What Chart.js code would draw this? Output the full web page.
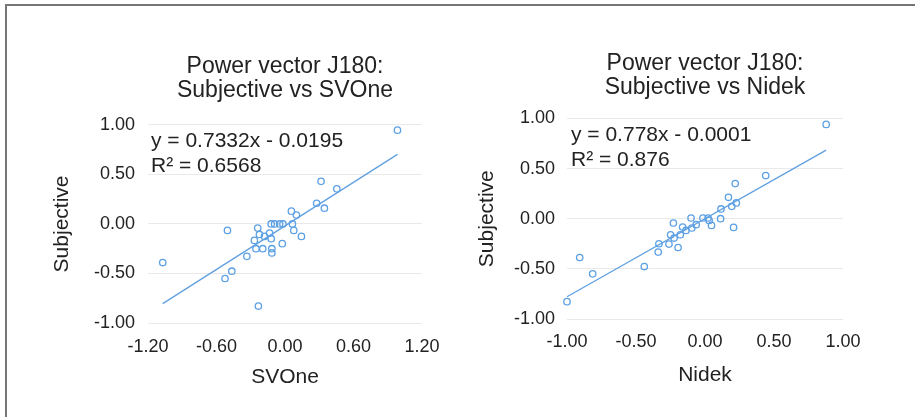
<!DOCTYPE html>
<html>
<head>
<meta charset="utf-8">
<script src="https://cdn.jsdelivr.net/npm/chart.js@4.4.1/dist/chart.umd.min.js"></script>
<style>
  html, body { margin: 0; padding: 0; background: #fff; }
  body { width: 915px; height: 417px; position: relative; overflow: hidden; }
  #frame { position: absolute; left: 5px; top: 4px; width: 930px; height: 430px;
           border-top: 2px solid #767676; border-left: 2px solid #767676; }
  canvas { position: absolute; top: 0; }
  #c1 { left: 0; }
  #c2 { left: 457px; }
</style>
</head>
<body>
<div id="frame"></div>
<canvas id="c1" width="460" height="417"></canvas>
<canvas id="c2" width="458" height="417"></canvas>
<script>
// ---- Data ----
const titleLeft = ['Power vector J180:', 'Subjective vs SVOne'];
const titleRight = ['Power vector J180:', 'Subjective vs Nidek'];
const xTitleLeft = 'SVOne';
const xTitleRight = 'Nidek';
const yTitle = 'Subjective';

const svoneX = [0.985, -1.071, 0.316, 0.454, 0.277, 0.345, 0.056, 0.100, -0.121, -0.091, -0.047, -0.018, 0.065, 0.077, 0.144, -0.504, -0.239, -0.224, -0.180, -0.135, -0.121, -0.268, -0.024, -0.254, -0.195, -0.115, -0.115, -0.334, -0.466, -0.525, -0.233];
const svoneY = [0.947, -0.390, 0.430, 0.354, 0.209, 0.159, 0.129, 0.089, 0.000, 0.000, 0.000, 0.000, 0.000, -0.065, -0.126, -0.065, -0.042, -0.106, -0.126, -0.092, -0.149, -0.166, -0.199, -0.250, -0.250, -0.250, -0.293, -0.327, -0.477, -0.551, -0.829];

const nidekX = [0.878, 0.440, 0.219, 0.170, 0.227, 0.194, 0.116, 0.113, -0.015, 0.022, 0.030, 0.047, 0.207, -0.101, -0.064, -0.096, -0.162, -0.138, -0.229, -0.249, -0.179, -0.224, -0.261, -0.195, -0.334, -0.339, -0.440, -0.908, -0.814, -1.000];
const nidekY = [0.940, 0.430, 0.350, 0.213, 0.157, 0.123, 0.097, 0.000, 0.007, 0.007, -0.017, -0.067, -0.087, 0.007, -0.060, -0.093, -0.083, -0.117, -0.043, -0.160, -0.160, -0.193, -0.253, -0.287, -0.250, -0.333, -0.477, -0.387, -0.550, -0.827];

// Trendline equations as printed on the chart
const slopeLeft = 0.7332, interceptLeft = -0.0195;
const slopeRight = 0.778, interceptRight = -0.0001;
const eqLeft = ['y = 0.7332x - 0.0195', 'R\u00B2 = 0.6568'];
const eqRight = ['y = 0.778x - 0.0001', 'R\u00B2 = 0.876'];

// Tick values
const xTicksLeft = [-1.2, -0.6, 0, 0.6, 1.2];
const xTicksRight = [-1.0, -0.5, 0, 0.5, 1.0];
const yTicks = [-1.0, -0.5, 0, 0.5, 1.0];

// ---- Styling ----
const FONT = '"Liberation Sans", Arial, Helvetica, sans-serif';
const TEXT = '#222222';
const POINT = 'rgb(92,160,228)';
const LINE = 'rgb(96,160,225)';
const GRID = '#e9e9e9';

function pts(xs, ys) { return xs.map((x, i) => ({x: x, y: ys[i]})); }
function trend(xs, m, b) {
  const lo = Math.min(...xs), hi = Math.max(...xs);
  return [{x: lo, y: m * lo + b}, {x: hi, y: m * hi + b}];
}
function fmt(v) { return (Math.abs(v) < 1e-9 ? 0 : v).toFixed(2); }

const eqPlugin = {
  id: 'eqText',
  afterDatasetsDraw(chart, args, opts) {
    const {ctx, chartArea} = chart;
    ctx.save();
    ctx.fillStyle = TEXT;
    ctx.font = '21px ' + FONT;
    ctx.textAlign = 'left';
    ctx.textBaseline = 'middle';
    opts.lines.forEach((t, i) => {
      ctx.fillText(t, chartArea.left + opts.dx, chartArea.top + opts.dy + i * 25);
    });
    ctx.restore();
  }
};

function makeChart(id, cfg) {
  return new Chart(document.getElementById(id), {
    type: 'scatter',
    data: {
      datasets: [
        {
          data: pts(cfg.xs, cfg.ys),
          showLine: false,
          clip: false,
          pointStyle: 'circle',
          pointRadius: 3.2,
          pointHoverRadius: 3.2,
          pointBorderWidth: 1.3,
          borderColor: POINT,
          backgroundColor: 'rgba(255,255,255,0)',
          order: 1
        },
        {
          data: trend(cfg.xs, cfg.m, cfg.b),
          showLine: true,
          clip: false,
          pointRadius: 0,
          borderColor: LINE,
          borderWidth: 1.3,
          fill: false,
          order: 2
        }
      ]
    },
    options: {
      responsive: false,
      animation: false,
      devicePixelRatio: 1,
      layout: { padding: { left: 0, right: cfg.padRight, top: 0, bottom: 0 } },
      plugins: {
        legend: { display: false },
        tooltip: { enabled: false },
        title: {
          display: true,
          text: cfg.title,
          fullSize: false,
          color: TEXT,
          font: { family: FONT, size: 23, weight: 'normal', lineHeight: 1.03 },
          padding: { top: cfg.titleTop, bottom: cfg.titleBottom }
        },
        eqText: { lines: cfg.eq, dx: cfg.eqDx, dy: cfg.eqDy }
      },
      scales: {
        x: {
          type: 'linear',
          min: cfg.xTicks[0],
          max: cfg.xTicks[cfg.xTicks.length - 1],
          afterBuildTicks: (s) => { s.ticks = cfg.xTicks.map(v => ({value: v})); },
          afterFit: (s) => { s.height = cfg.xHeight; },
          grid: { display: false, drawTicks: false },
          border: { display: false },
          ticks: {
            color: TEXT, padding: cfg.xTickPad, maxRotation: 0, autoSkip: false,
            font: { family: FONT, size: 18 },
            callback: (v) => fmt(v)
          },
          title: {
            display: true, text: cfg.xTitle, color: TEXT,
            font: { family: FONT, size: 21 },
            padding: { top: 0, bottom: cfg.xTitlePad }
          }
        },
        y: {
          type: 'linear',
          min: -1, max: 1,
          afterBuildTicks: (s) => { s.ticks = yTicks.map(v => ({value: v})); },
          afterFit: (s) => { s.width = cfg.yWidth; },
          grid: { display: true, color: GRID, lineWidth: 1, drawTicks: false },
          border: { display: false },
          ticks: {
            color: TEXT, padding: cfg.yTickPad, autoSkip: false,
            font: { family: FONT, size: 18 },
            callback: (v) => fmt(v)
          },
          title: {
            display: true, text: yTitle, color: TEXT,
            font: { family: FONT, size: 21 },
            padding: { top: cfg.yTitlePad, bottom: 0 }
          }
        }
      }
    },
    plugins: [eqPlugin]
  });
}

makeChart('c1', {
  xs: svoneX, ys: svoneY, m: slopeLeft, b: interceptLeft,
  title: titleLeft, xTitle: xTitleLeft, xTicks: xTicksLeft, eq: eqLeft,
  padRight: 38, yWidth: 148, xHeight: 94,
  titleTop: 55, titleBottom: 22.5,
  xTickPad: 13, yTickPad: 13, xTitlePad: 27.5, yTitlePad: 50,
  eqDx: 3, eqDy: 16
});

makeChart('c2', {
  xs: nidekX, ys: nidekY, m: slopeRight, b: interceptRight,
  title: titleRight, xTitle: xTitleRight, xTicks: xTicksRight, eq: eqRight,
  padRight: 72, yWidth: 110, xHeight: 98,
  titleTop: 52, titleBottom: 19,
  xTickPad: 12, yTickPad: 12, xTitlePad: 29.5, yTitlePad: 17.5,
  eqDx: 4, eqDy: 17
});
</script>
</body>
</html>
